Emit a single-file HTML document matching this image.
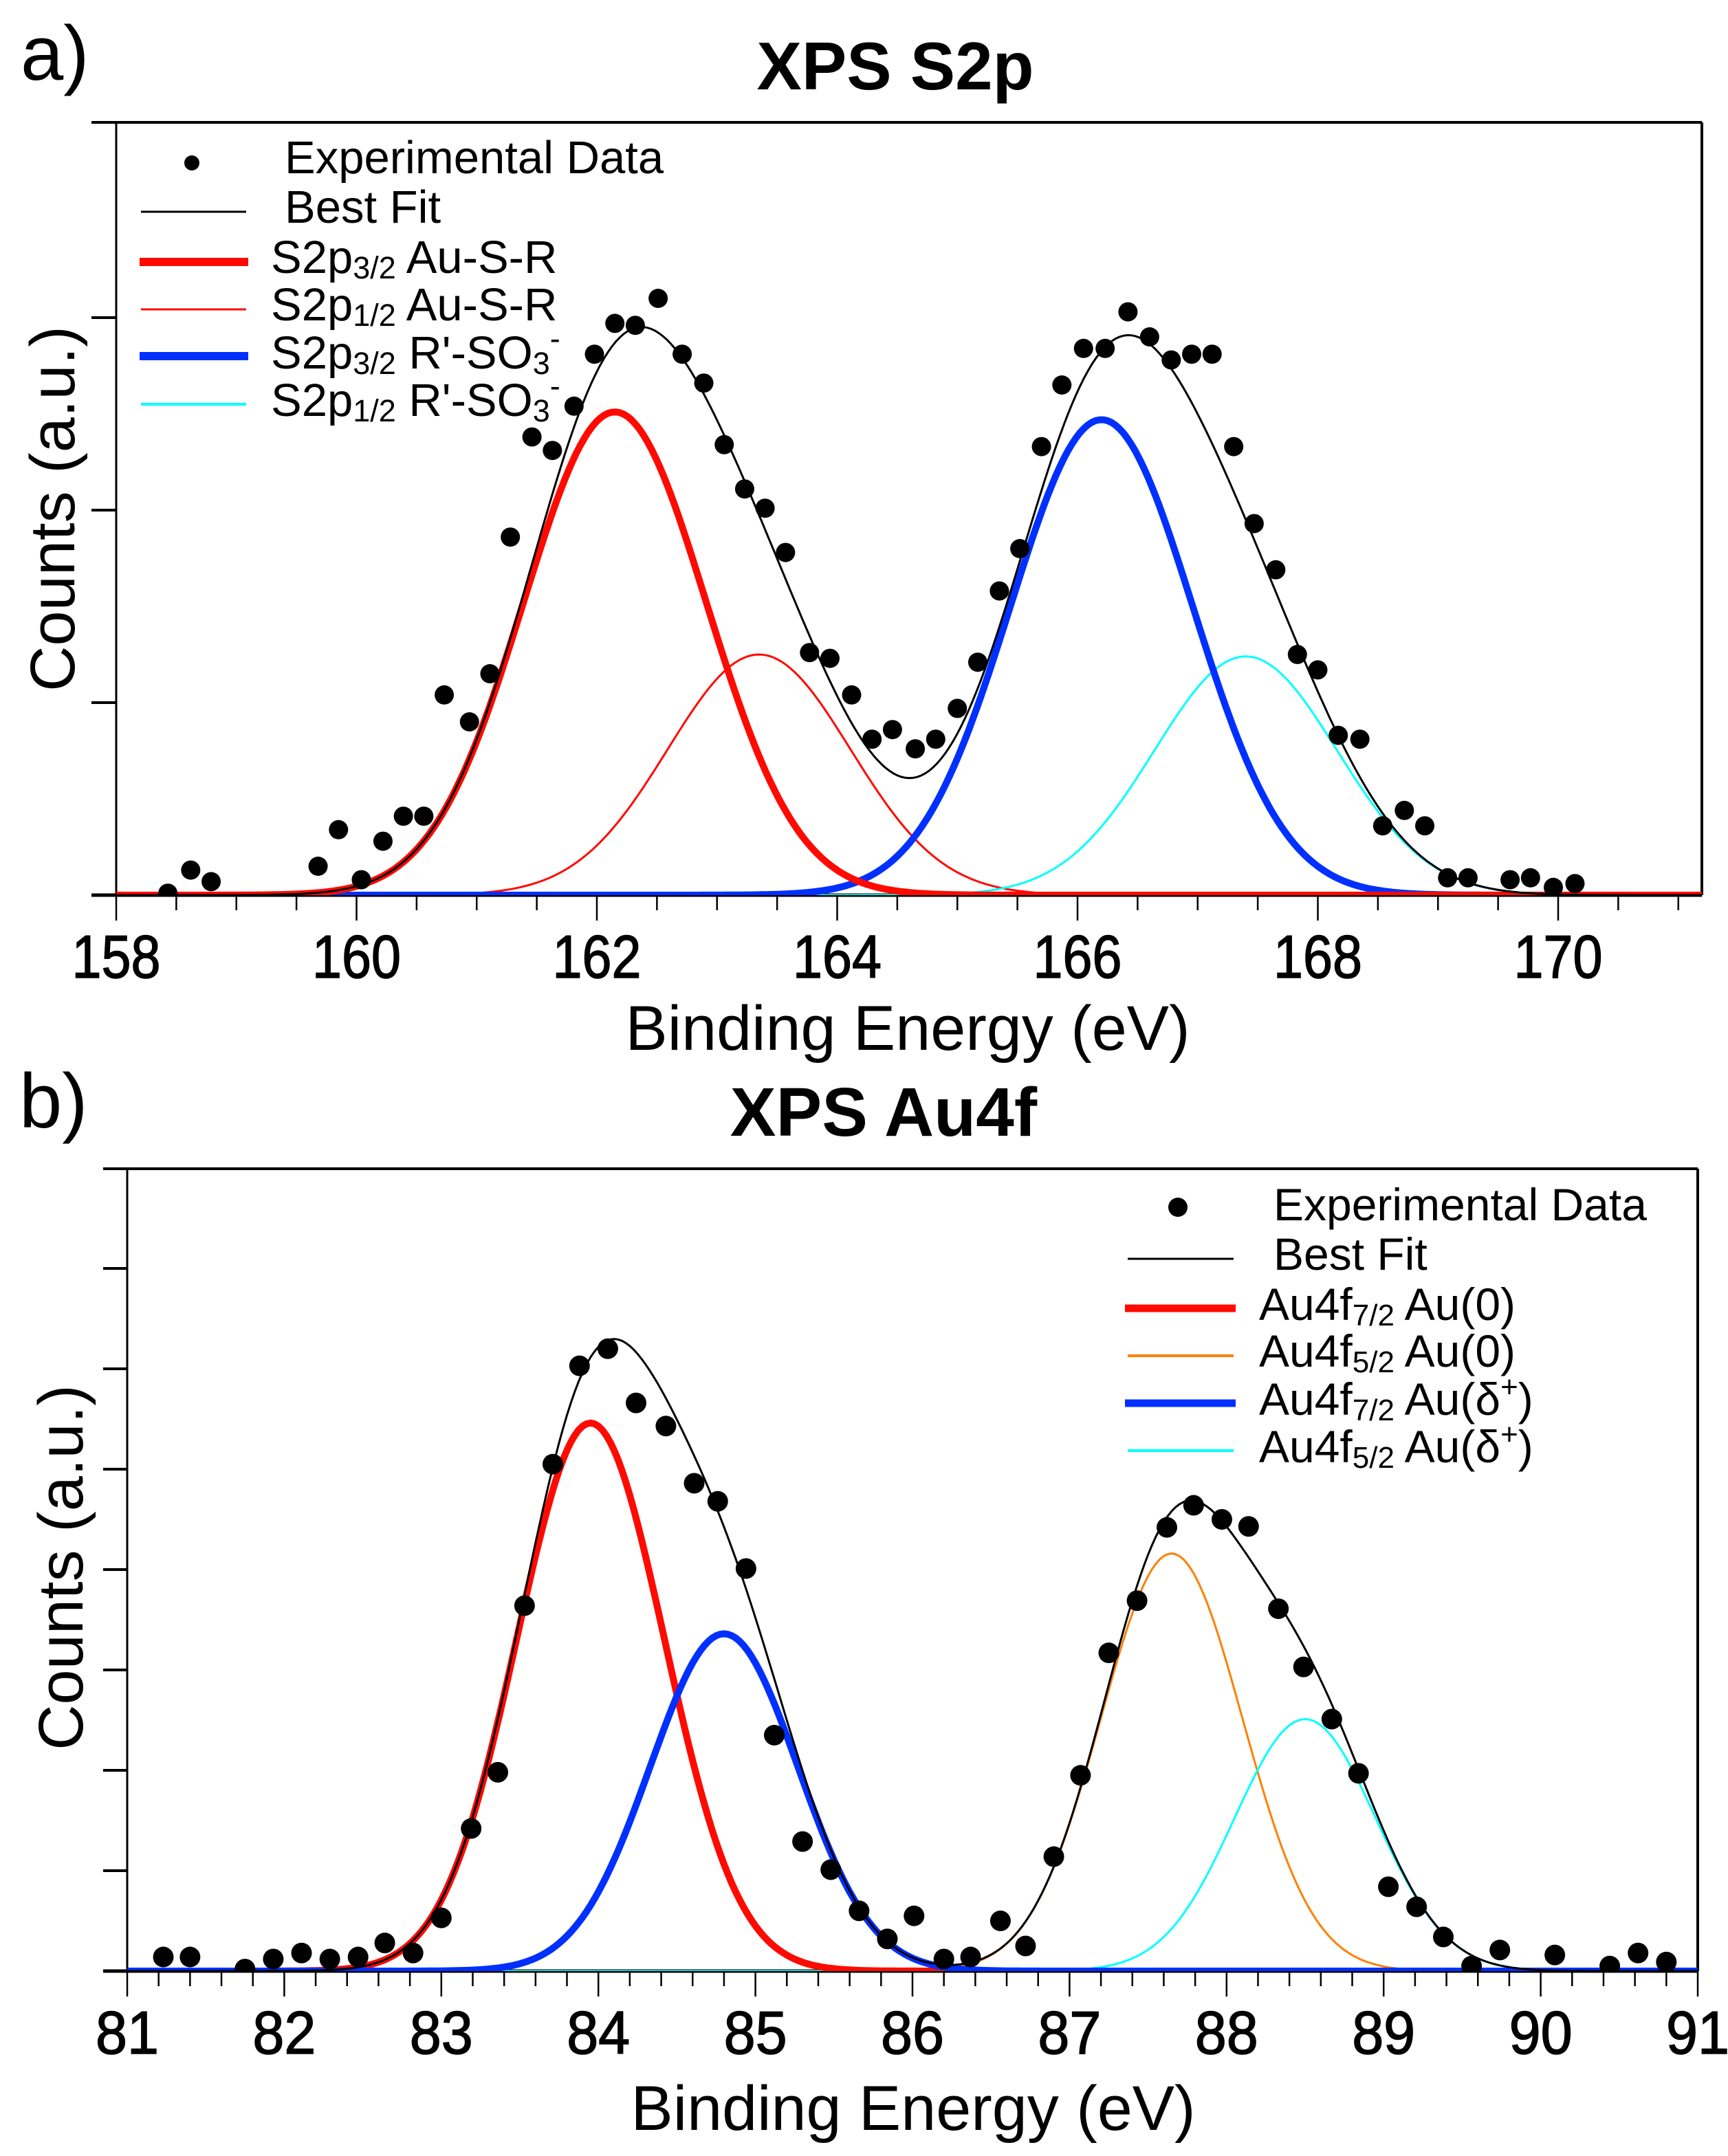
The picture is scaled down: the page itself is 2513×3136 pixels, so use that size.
<!DOCTYPE html>
<html><head><meta charset="utf-8"><style>
html,body{margin:0;padding:0;background:#fff;}
svg{display:block;font-family:"Liberation Sans",sans-serif;}
</style></head><body>
<svg id="fig" width="2513" height="3136" viewBox="0 0 2513 3136" xmlns="http://www.w3.org/2000/svg">
<rect width="2513" height="3136" fill="#fff"/>
<defs>
<clipPath id="clipA"><rect x="169" y="178" width="2306" height="1124"/></clipPath>
<clipPath id="clipB"><rect x="185" y="1700" width="2284" height="1167"/></clipPath>
</defs>
<!-- Panel a static -->
<text x="30" y="116" font-size="112">a)</text>
<text x="1302" y="130" font-size="98" font-weight="bold" text-anchor="middle">XPS S2p</text>
<text transform="translate(108,740) rotate(-90)" font-size="92" text-anchor="middle">Counts (a.u.)</text>
<text x="1320" y="1527" font-size="92" text-anchor="middle" textLength="821" lengthAdjust="spacingAndGlyphs">Binding Energy (eV)</text>
<g id="axA"></g>
<g id="plotA" clip-path="url(#clipA)"></g>
<g font-size="67">
 <circle cx="279" cy="237" r="11" fill="#000"/>
 <text x="414" y="252">Experimental Data</text>
 <line x1="205" y1="308" x2="358" y2="308" stroke="#000" stroke-width="3"/>
 <text x="414" y="324">Best Fit</text>
 <line x1="203" y1="381" x2="361" y2="381" stroke="#ff0a00" stroke-width="12"/>
 <text x="394" y="397">S2p<tspan font-size="45" dy="8">3/2</tspan><tspan dy="-8"> Au-S-R</tspan></text>
 <line x1="205" y1="450" x2="358" y2="450" stroke="#ff0a00" stroke-width="3"/>
 <text x="394" y="466">S2p<tspan font-size="45" dy="8">1/2</tspan><tspan dy="-8"> Au-S-R</tspan></text>
 <line x1="203" y1="518" x2="361" y2="518" stroke="#0030ff" stroke-width="12"/>
 <text x="394" y="536">S2p<tspan font-size="45" dy="8">3/2</tspan><tspan dy="-8"> R'-SO</tspan><tspan font-size="45" dy="8">3</tspan><tspan font-size="45" dy="-36">-</tspan></text>
 <line x1="205" y1="588" x2="358" y2="588" stroke="#00ffff" stroke-width="4"/>
 <text x="394" y="605">S2p<tspan font-size="45" dy="8">1/2</tspan><tspan dy="-8"> R'-SO</tspan><tspan font-size="45" dy="8">3</tspan><tspan font-size="45" dy="-36">-</tspan></text>
</g>
<!-- Panel b static -->
<text x="28" y="1640" font-size="112">b)</text>
<text x="1285" y="1652" font-size="100" font-weight="bold" text-anchor="middle">XPS Au4f</text>
<text transform="translate(120,2280) rotate(-90)" font-size="92" text-anchor="middle">Counts (a.u.)</text>
<text x="1328" y="3098" font-size="92" text-anchor="middle" textLength="821" lengthAdjust="spacingAndGlyphs">Binding Energy (eV)</text>
<g id="axB"></g>
<g id="plotB" clip-path="url(#clipB)"></g>
<g font-size="66">
 <circle cx="1713" cy="1756" r="14" fill="#000"/>
 <text x="1852" y="1775">Experimental Data</text>
 <line x1="1640" y1="1831" x2="1794" y2="1831" stroke="#000" stroke-width="3"/>
 <text x="1852" y="1847">Best Fit</text>
 <line x1="1636" y1="1903" x2="1797" y2="1903" stroke="#ff0a00" stroke-width="11"/>
 <text x="1831" y="1920">Au4f<tspan font-size="44" dy="8">7/2</tspan><tspan dy="-8"> Au(0)</tspan></text>
 <line x1="1640" y1="1972" x2="1794" y2="1972" stroke="#ff8000" stroke-width="4"/>
 <text x="1831" y="1988">Au4f<tspan font-size="44" dy="8">5/2</tspan><tspan dy="-8"> Au(0)</tspan></text>
 <line x1="1636" y1="2041" x2="1797" y2="2041" stroke="#0030ff" stroke-width="11"/>
 <text x="1831" y="2058">Au4f<tspan font-size="44" dy="8">7/2</tspan><tspan dy="-8"> Au(δ</tspan><tspan font-size="44" dy="-26">+</tspan><tspan dy="26">)</tspan></text>
 <line x1="1640" y1="2110" x2="1794" y2="2110" stroke="#00ffff" stroke-width="4"/>
 <text x="1831" y="2127">Au4f<tspan font-size="44" dy="8">5/2</tspan><tspan dy="-8"> Au(δ</tspan><tspan font-size="44" dy="-26">+</tspan><tspan dy="26">)</tspan></text>
</g>
</svg>
<script>
// ---- Panel a data ----
const aEnergy = [158.43,158.62,158.79,159.68,159.85,160.04,160.22,160.39,160.56,160.73,160.94,161.11,161.28,161.46,161.63,161.81,161.98,162.15,162.32,162.51,162.71,162.89,163.06,163.23,163.40,163.57,163.77,163.94,164.12,164.29,164.46,164.65,164.82,165.00,165.17,165.35,165.52,165.70,165.87,166.05,166.23,166.42,166.60,166.78,166.95,167.12,167.30,167.47,167.65,167.83,168.00,168.17,168.35,168.54,168.72,168.89,169.08,169.25,169.60,169.77,169.96,170.14];
const aCounts = [0.01,0.13,0.07,0.15,0.34,0.08,0.28,0.41,0.41,1.04,0.90,1.15,1.86,2.38,2.31,2.54,2.81,2.97,2.96,3.10,2.81,2.66,2.34,2.11,2.01,1.78,1.26,1.23,1.04,0.81,0.86,0.76,0.81,0.97,1.21,1.58,1.80,2.33,2.65,2.84,2.84,3.03,2.90,2.78,2.81,2.81,2.33,1.93,1.69,1.25,1.17,0.83,0.81,0.36,0.44,0.36,0.09,0.09,0.08,0.09,0.04,0.06];
const aCenters = [162.15,163.35,166.2,167.4];
const aHeights = [2.51,1.25,2.47,1.24];
const aSigmas = [0.76,0.76,0.76,0.76];
const aColors = ['#ff0a00','#ff0a00','#0030ff','#00ffff'];
const aWidths = [10,3,10,3];
const aNames = ['s2p32-aus-r','s2p12-aus-r','s2p32-so3','s2p12-so3'];
const aTickLabels = [158,160,162,164,166,168,170];
// ---- Panel b data ----
const bEnergy = [81.23,81.40,81.75,81.93,82.11,82.29,82.47,82.64,82.82,83.00,83.19,83.36,83.53,83.71,83.88,84.06,84.24,84.43,84.61,84.76,84.94,85.12,85.30,85.48,85.66,85.84,86.01,86.20,86.37,86.56,86.72,86.90,87.07,87.25,87.43,87.62,87.79,87.97,88.14,88.33,88.49,88.67,88.84,89.03,89.21,89.38,89.56,89.74,90.09,90.44,90.62,90.80];
const bCounts = [0.14,0.14,0.02,0.12,0.18,0.12,0.14,0.28,0.18,0.53,1.42,1.98,3.64,5.05,6.03,6.20,5.66,5.43,4.86,4.68,4.01,2.35,1.29,1.01,0.60,0.32,0.55,0.12,0.14,0.50,0.25,1.14,1.95,3.17,3.69,4.42,4.64,4.50,4.43,3.61,3.03,2.51,1.97,0.84,0.64,0.34,0.05,0.21,0.16,0.05,0.18,0.09];
const bCenters = [83.95,84.8,87.65,88.5];
const bHeights = [5.46,3.36,4.16,2.51];
const bSigmas = [0.47,0.47,0.45,0.45];
const bColors = ['#ff0a00','#0030ff','#ff8000','#00ffff'];
const bWidths = [10,10,3,3];
const bNames = ['au4f72-au0','au4f72-audelta','au4f52-au0','au4f52-audelta'];
const bTickLabels = [81,82,83,84,85,86,87,88,89,90,91];

const NS='http://www.w3.org/2000/svg';
function mk(tag,attrs,parent){const e=document.createElementNS(NS,tag);for(const k in attrs)e.setAttribute(k,attrs[k]);parent.appendChild(e);return e;}

function panel(cfg){
  const ax=document.getElementById(cfg.axId), pl=document.getElementById(cfg.plotId);
  const X=e=>cfg.x0+(e-cfg.e0)*cfg.pxPerE, Y=v=>cfg.base-v*cfg.pxPerV;
  let l=mk('line',{x1:cfg.tickLeft,y1:cfg.top,x2:cfg.right,y2:cfg.top,stroke:'#000','stroke-width':4},ax);
  
  
  l=mk('line',{x1:cfg.x0,y1:cfg.top,x2:cfg.x0,y2:cfg.base,stroke:'#000','stroke-width':3},ax);
  
  
  l=mk('line',{x1:cfg.right,y1:cfg.top,x2:cfg.right,y2:cfg.base,stroke:'#000','stroke-width':4},ax);
  
  
  l=mk('line',{x1:cfg.tickLeft,y1:cfg.base,x2:cfg.right,y2:cfg.base,stroke:'#000','stroke-width':5},ax);
  
  
  for(let v=1;Y(v)>cfg.top+5;v++){
    const t=mk('line',{x1:cfg.tickLeft,y1:Y(v),x2:cfg.x0,y2:Y(v),stroke:'#000','stroke-width':4},ax);
    
    
  }
  const n=Math.round((cfg.eMax-cfg.e0)/cfg.minor);
  for(let i=0;i<=n;i++){
    const e=cfg.e0+i*cfg.minor;
    const major=Math.abs(((e-cfg.e0)/cfg.major)-Math.round((e-cfg.e0)/cfg.major))<1e-6;
    const t=mk('line',{x1:X(e),y1:cfg.base,x2:X(e),y2:cfg.base+(major?37:22),stroke:'#000','stroke-width':2.5},ax);
    
    
  }
  cfg.labels.forEach(v=>{
    const t=mk('text',{x:X(v),y:cfg.labelY,'font-size':cfg.labelSize,'text-anchor':'middle',stroke:'#000','stroke-width':1.5,textLength:cfg.labelW*String(v).length,lengthAdjust:'spacingAndGlyphs'},ax);
    t.textContent=String(v);
    
    
  });
  const N=400, comp=(k,e)=>cfg.heights[k]*Math.exp(-Math.pow(e-cfg.centers[k],2)/(2*cfg.sigmas[k]*cfg.sigmas[k]));
  const pts=k=>{let s='';for(let i=0;i<=N;i++){const e=cfg.e0+(cfg.eMax-cfg.e0)*i/N;s+=(i?'L':'M')+X(e).toFixed(1)+','+Y(k(e)).toFixed(1);}return s;};
  cfg.order.forEach(k=>{
    const p=mk('path',{d:pts(e=>comp(k,e)),fill:'none',stroke:cfg.colors[k],'stroke-width':cfg.widths[k],'stroke-linejoin':'round'},pl);
    
    
  });
  const fit=mk('path',{d:pts(e=>cfg.centers.reduce((s,_,k)=>s+comp(k,e),0)),fill:'none',stroke:'#000','stroke-width':3},pl);
  
  
  cfg.energy.forEach((e,i)=>{
    const c=mk('circle',{cx:X(e),cy:Y(cfg.counts[i]),r:cfg.r,fill:'#000'},pl);
    
    
  });
}
panel({axId:'axA',plotId:'plotA',x0:169,e0:158,eMax:171.2,pxPerE:174.75,base:1302,pxPerV:280,top:178,right:2475,tickLeft:133,
  minor:0.5,major:2,labels:aTickLabels,labelY:1422,labelSize:88,labelW:43,
  centers:aCenters,heights:aHeights,sigmas:aSigmas,colors:aColors,widths:aWidths,names:aNames,order:[1,3,2,0],
  energy:aEnergy,counts:aCounts,r:14});
panel({axId:'axB',plotId:'plotB',x0:185,e0:81,eMax:91,pxPerE:228.4,base:2867,pxPerV:146,top:1700,right:2469,tickLeft:150,
  minor:0.2,major:1,labels:bTickLabels,labelY:2987,labelSize:88,labelW:46,
  centers:bCenters,heights:bHeights,sigmas:bSigmas,colors:bColors,widths:bWidths,names:bNames,order:[2,3,0,1],
  energy:bEnergy,counts:bCounts,r:15});
</script>
</body></html>
